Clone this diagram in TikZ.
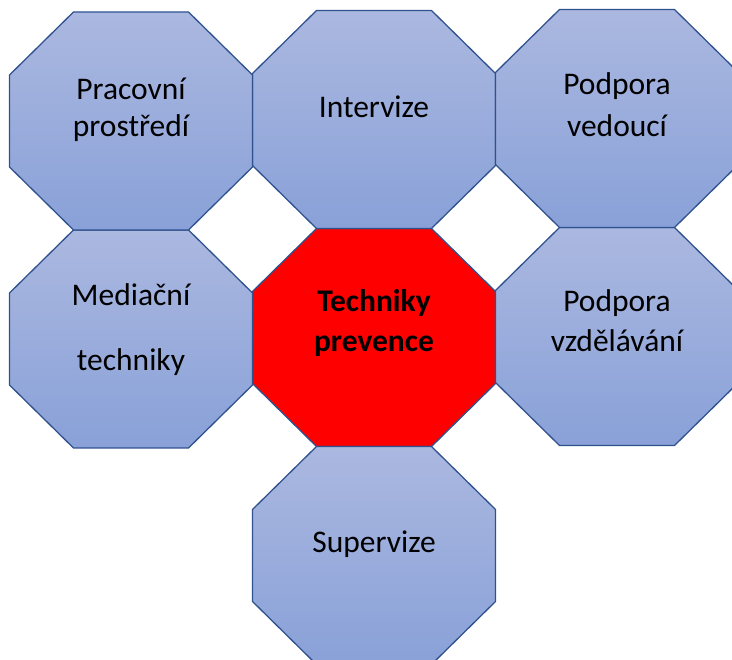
\documentclass[tikz,border=0pt]{standalone}
\usepackage{fontspec}
\setmainfont{Carlito}
\usetikzlibrary{positioning,calc}

\definecolor{octline}{RGB}{47,82,143}
\definecolor{octtop}{RGB}{171,184,224}
\definecolor{octbottom}{RGB}{137,161,216}

\begin{document}
\begin{tikzpicture}[
	x=1pt, y=1pt,
	cell/.style={
		rectangle,
		minimum width=243pt,
		minimum height=218pt,
		inner sep=0pt,
		outer sep=0pt,
	},
	octedge/.style={
		draw=octline,
		line width=1.3pt,
		line join=round,
	},
	bluefill/.style={
		top color=octtop,
		bottom color=octbottom,
	},
	redfill/.style={
		fill=red,
	},
	lbl/.style={
		align=center,
		anchor=base,
		inner sep=0pt,
	},
	font=\fontsize{31.5}{38}\selectfont,
]
\clip (0,0) rectangle (732,-660);

% cells
\node [cell] (prevence) at (374,-337.5) {};
\node [cell, above=0pt of prevence] (intervize) {};
\node [cell, below=0pt of prevence] (supervize) {};
\node [cell, left=0pt of prevence, yshift=-1.5pt] (mediace) {};
\node [cell, right=0pt of prevence, yshift=1pt] (vzdelavani) {};
\node [cell, above=0pt of mediace] (pracovni) {};
\node [cell, above=0pt of vzdelavani] (vedouci) {};

% octagons
\foreach \o/\f in {prevence/redfill, intervize/bluefill, supervize/bluefill,
	mediace/bluefill, vzdelavani/bluefill, pracovni/bluefill, vedouci/bluefill}
	\draw [octedge, \f] ($(\o.north west)+(64,0)$) -- ($(\o.north east)+(-64,0)$)
		-- ($(\o.north east)+(0,-63)$) -- ($(\o.south east)+(0,63)$)
		-- ($(\o.south east)+(-64,0)$) -- ($(\o.south west)+(64,0)$)
		-- ($(\o.south west)+(0,63)$) -- ($(\o.north west)+(0,-63)$) -- cycle;

% texts
\node [lbl, font=\fontsize{31.5}{38}\selectfont\bfseries] (tPrevence) at ([yshift=-14.5pt]prevence.center) {Techniky\\[2pt]prevence};
\node [lbl] (tIntervize) at ([yshift=1.5pt]intervize.center) {Intervize};
\node [lbl] (tSupervize) at ([yshift=2.5pt]supervize.center) {Supervize};
\node [lbl] (tMediace) at ([yshift=-31.5pt]mediace.center) {Mediační\\[27pt]techniky};
\node [lbl] (tVzdelavani) at ([yshift=-15.5pt]vzdelavani.center) {Podpora\\[2pt]vzdělávání};
\node [lbl] (tPracovni) at ([yshift=-16pt]pracovni.center) {Pracovní\\[-1pt]prostředí};
\node [lbl] (tVedouci) at ([yshift=-18.5pt]vedouci.center) {Podpora\\[4pt]vedoucí};
\end{tikzpicture}
\end{document}
